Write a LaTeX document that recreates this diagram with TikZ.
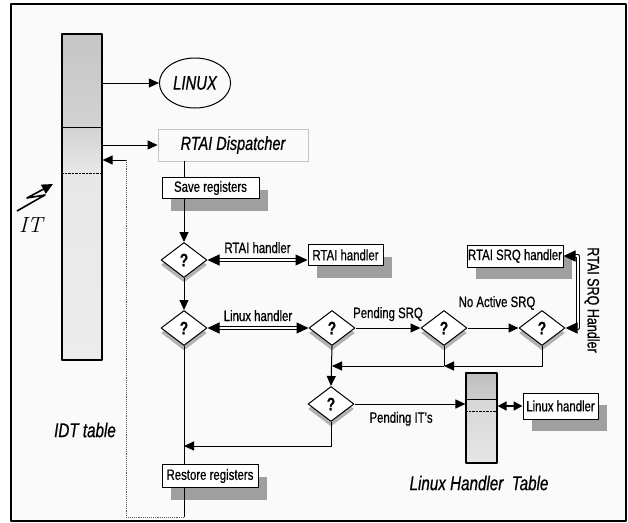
\documentclass[tikz,border=0pt]{standalone}
\usepackage{fontspec}
\setsansfont{Liberation Sans}[FakeStretch=0.76, FakeBold=0.6]
\usetikzlibrary{arrows.meta,shapes.geometric,shadows}
\tikzset{
  every picture/.style={line join=round, >={Triangle[length=10pt,width=9pt]}},
  txt/.style={font=\sffamily\fontsize{15}{15}\selectfont},
  big/.style={font=\sffamily\itshape\fontsize{#1}{#1}\selectfont},
  box/.style={draw, fill=white, line width=1pt, inner sep=0pt, txt,
    drop shadow={shadow xshift=9pt, shadow yshift=-12pt, fill=gray!75, opacity=1}},
  query/.style={diamond, draw, fill=white, line width=1pt, inner sep=0pt,
    minimum width=46pt, minimum height=35pt,
    font=\sffamily\bfseries\fontsize{18}{18}\selectfont,
    drop shadow={shadow xshift=0pt, shadow yshift=-5pt, fill=gray!60, opacity=1}},
  flow/.style={->, line width=1pt},
  twoway/.style={{Triangle[length=12pt,width=11pt]}-{Triangle[length=12pt,width=11pt]},
    double, double distance=2pt, line width=1pt},
}
\begin{document}
\begin{tikzpicture}[x=1pt,y=-1pt]
\useasboundingbox (0,0) rectangle (628,522);
\draw[line width=1.6pt, fill=gray!4] (11,4) rectangle (626,521);

% IDT table
\shade[top color=gray!45, bottom color=gray!35] (62,34) rectangle (102,127);
\shade[top color=gray!35, bottom color=gray!18] (62,127) rectangle (102,173);
\shade[top color=gray!18, middle color=gray!38, bottom color=gray!15] (62,173) rectangle (102,360);
\draw[line width=1pt] (62,127) -- (102,127);
\draw[densely dotted] (62,173) -- (102,173);
\node[draw, line width=1.2pt, minimum width=40pt, minimum height=326pt, inner sep=0pt] (idt) at (82,197) {};
\node[big=20] (idtlbl) at (85,430) {IDT table};

% interrupt
\draw[line width=1.6pt, -{Triangle[length=11pt,width=10pt]}] (17,211) -- (45,195) -- (27,198) -- (53,184);
\node[font=\itshape\fontsize{22}{22}\selectfont] (it) at (31,225) {IT};

\node[ellipse, draw, line width=1pt, minimum width=70pt, minimum height=50pt, big=19.5] (linux) at (195,83) {LINUX};
\node[draw=gray!45, line width=0.8pt, minimum width=150pt, minimum height=32pt, big=19] (disp) at (233,145) {RTAI Dispatcher};
\draw[flow] (idt.east |- linux) -- (linux.west);
\draw[flow] (idt.east |- disp) -- (disp.west);

\node[box, minimum width=97pt, minimum height=21pt] (save) at (210.5,188) {Save registers};
\node[query] (q1) at (184,260) {?};
\node[query] (q2) at (184,328) {?};
\node[query] (q3) at (332,328) {?};
\node[query] (q4) at (444,328) {?};
\node[query] (q5) at (542,328) {?};
\node[query] (q6) at (331,404) {?};
\node[box, minimum width=75pt, minimum height=21pt] (rtaih) at (345.5,255) {RTAI handler};
\node[box, minimum width=96pt, minimum height=22pt] (srqh) at (515,256) {RTAI SRQ handler};
\node[box, minimum width=96pt, minimum height=23pt] (rest) at (210,476) {Restore registers};
\node[box, minimum width=75pt, minimum height=26pt] (lxh) at (560.5,406) {Linux handler};

% Linux handler table
\shade[top color=gray!50, bottom color=gray!40] (466,373) rectangle (497,399);
\shade[top color=gray!32, bottom color=gray!20] (466,399) rectangle (497,463);
\draw[line width=0.8pt] (466,399) -- (497,399);
\draw[densely dotted] (466,411) -- (497,411);
\node[draw, line width=1.2pt, minimum width=31pt, minimum height=90pt, inner sep=0pt] (lht) at (481.5,418) {};
\node[big=20] (lhtlbl) at (479,483) {Linux Handler~~Table};

\node[font=\sffamily\fontsize{16.5}{16.5}\selectfont, rotate=-90] (srqlbl) at (592,300) {RTAI SRQ Handler};

\coordinate (j4) at (444,366);
\coordinate (j3) at (332,366);
\coordinate (jr) at (184,446);
\coordinate (rb) at (184,517);
\coordinate (rl) at (126,517);
\coordinate (ru) at (126,160);

\draw[line width=1pt] (disp.south -| q1) -- (save.north -| q1);
\draw[flow] (save.south -| q1) -- (q1.north);
\draw[flow] (q1.south) -- (q2.north);
\draw[twoway] (q1.east) -- node[txt, above=3pt] {RTAI handler} (rtaih.west |- q1.east);
\draw[twoway] (q2.east) -- node[txt, above=3pt] {Linux handler} (q3.west);
\draw[flow] (q3.east) -- node[txt, above=3pt] {Pending SRQ} (q4.west);
\draw[flow] (q4.east) -- (q5.west);
\node[txt] (noact) at (497,303) {No Active SRQ};
\draw[twoway] (q5.east) -- ++(12,0) |- (srqh.east);
\draw[flow] (q5.south) |- (j4);
\draw[line width=1pt] (q4.south) -- (j4);
\draw[flow] (j4) -- (j3);
\draw[flow] (q3.south) -- (q6.north);
\draw[flow] (q6.east) -- node[txt, below=4pt, pos=0.42] {Pending IT's} (lht.west |- q6.east);
\draw[line width=1.6pt, {Triangle[length=9pt,width=9pt]}-{Triangle[length=9pt,width=9pt]}] (lht.east |- lxh.west) -- (lxh.west);
\draw[flow] (q6.south) |- (jr);
\draw[line width=1pt] (q2.south) -- (rest.north -| q2);
\draw[line width=1pt] (rest.south -| q2) -- (rb);
\draw[densely dotted, gray!70!black, line width=0.9pt] (rb) -- (rl) -- (ru);
\draw[flow] (ru) -- (idt.east |- ru);
\end{tikzpicture}
\end{document}
